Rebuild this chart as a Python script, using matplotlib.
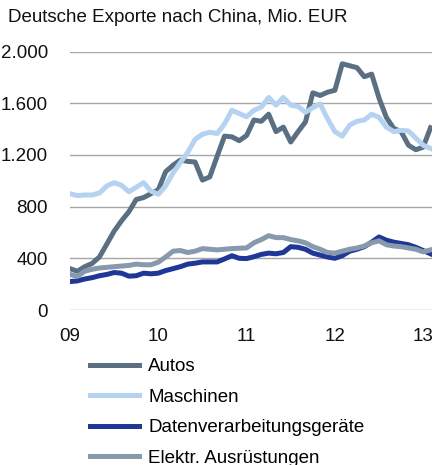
import matplotlib
matplotlib.use("Agg")
import matplotlib.pyplot as plt
import numpy as np

# Monthly exports to China, Jan 2009 - Feb 2013, Mio. EUR
autos = [320, 300, 335, 360, 410, 510, 610, 690, 760, 855, 870, 900,
         930, 1070, 1120, 1160, 1150, 1145, 1005, 1030, 1190, 1345, 1340, 1310,
         1350, 1470, 1460, 1515, 1380, 1415, 1300, 1380, 1455, 1680, 1660, 1685,
         1700, 1905, 1890, 1875, 1805, 1825, 1640, 1490, 1405, 1380, 1275, 1240,
         1260, 1410]
maschinen = [900, 885, 890, 890, 905, 960, 985, 965, 915, 950, 985, 920,
             895, 960, 1060, 1140, 1220, 1320, 1360, 1375, 1365, 1440, 1545, 1520,
             1495, 1545, 1570, 1645, 1585, 1645, 1585, 1575, 1530, 1565, 1595, 1480,
             1380, 1345, 1430, 1460, 1470, 1515, 1490, 1415, 1380, 1390, 1385, 1330,
             1275, 1250]
datenverarbeitung = [220, 225, 240, 250, 265, 275, 290, 285, 262, 265, 285, 280,
                     285, 305, 320, 335, 355, 362, 372, 372, 372, 395, 420, 400,
                     398, 412, 430, 440, 435, 445, 490, 485, 470, 440, 425, 410,
                     400, 420, 455, 470, 490, 525, 565, 540, 525, 515, 505, 485,
                     460, 435]
elektr = [275, 260, 300, 315, 325, 330, 335, 340, 345, 355, 350, 350,
          370, 410, 455, 460, 445, 455, 475, 470, 465, 470, 475, 478,
          480, 520, 545, 575, 560, 560, 545, 535, 520, 490, 470, 445,
          440, 455, 470, 480, 495, 520, 535, 505, 495, 490, 480, 470,
          450, 465]

series_names = ["Autos", "Maschinen", "Datenverarbeitungsgeräte", "Elektr. Ausrüstungen"]
series_colors = ["#5b6f83", "#b5d3f1", "#1f3797", "#8799ad"]

year_labels = ["09", "10", "11", "12", "13"]
y_ticks = [0, 400, 800, 1200, 1600, 2000]
y_labels = ["0", "400", "800", "1.200", "1.600", "2.000"]

plt.rcParams["font.family"] = ["Liberation Sans", "DejaVu Sans"]
FS = 13.5

fig = plt.figure(figsize=(4.35, 4.65), dpi=100)
ax = fig.add_axes([70 / 435, 155 / 465, 362 / 435, 258.5 / 465])

months = np.arange(len(autos))
for values, name, color in zip([autos, maschinen, datenverarbeitung, elektr], series_names, series_colors):
    ax.plot(months, values, color=color, linewidth=3.6, label=name, solid_joinstyle="round")

ax.set_xlim(0, 49.2)
ax.set_ylim(0, 2000)
ax.set_yticks(y_ticks)
ax.set_yticklabels(y_labels)
ax.set_xticks([12 * i for i in range(len(year_labels))])
ax.set_xticklabels(year_labels)
ax.tick_params(axis="both", length=0, labelsize=FS, colors="#111111")
ax.tick_params(axis="y", pad=16)
ax.tick_params(axis="x", pad=13)
for spine in ax.spines.values():
    spine.set_visible(False)
ax.yaxis.grid(True, color="#a6a6a6", linewidth=1.0)
ax.set_axisbelow(True)

fig.text(8 / 435, 1 - 17 / 465, "Deutsche Exporte nach China, Mio. EUR",
         fontsize=FS, va="center", ha="left", color="#111111")

fig.legend(loc="upper left", bbox_to_anchor=(90 / 435, 1 - 358 / 465), frameon=False,
           fontsize=FS, handlelength=2.6, handletextpad=0.5, labelspacing=0.72,
           borderaxespad=0, borderpad=0)

fig.savefig("out.png", dpi=100)
